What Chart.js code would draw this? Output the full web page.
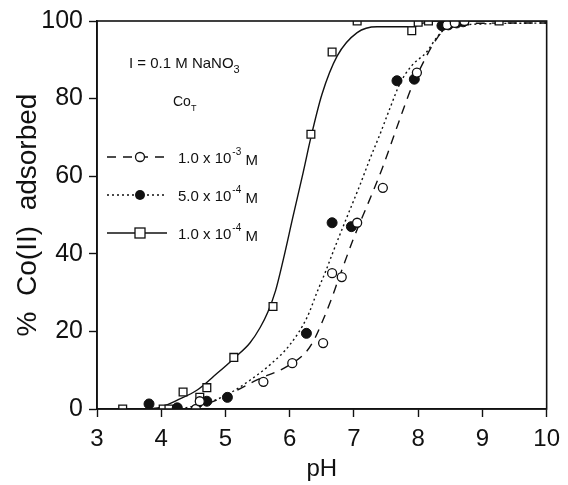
<!DOCTYPE html>
<html>
<head>
<meta charset="utf-8">
<script src="https://cdn.jsdelivr.net/npm/chart.js@4.4.1/dist/chart.umd.min.js"></script>
<style>
  html, body { margin: 0; padding: 0; background: #fff; }
  #wrap { width: 568px; height: 485px; position: relative; }
</style>
</head>
<body>
<div id="wrap"><canvas id="c" width="568" height="485"></canvas></div>
<script>
// ---- Data ----
const phTicks = [3, 4, 5, 6, 7, 8, 9, 10];
const pctTicks = [0, 20, 40, 60, 80, 100];

// Measured points: CoT = 1.0e-3 M (open circles)
const open1e3X = [4.54, 4.60, 5.59, 6.04, 6.52, 6.66, 6.81, 7.05, 7.45, 7.98, 8.45, 8.57, 8.72];
const open1e3Y = [0.0, 2.0, 7.0, 11.8, 17.0, 35.0, 34.0, 48.0, 57.0, 86.7, 99.0, 99.5, 100.0];

// Measured points: CoT = 5.0e-4 M (filled circles)
const filled5e4X = [3.81, 4.25, 4.71, 5.03, 6.26, 6.66, 6.96, 7.67, 7.94, 8.37, 8.47, 8.60, 8.70];
const filled5e4Y = [1.3, 0.3, 2.0, 3.0, 19.5, 48.0, 47.0, 84.6, 85.0, 98.8, 99.0, 99.5, 99.8];

// Measured points: CoT = 1.0e-4 M (open squares)
const sq1e4X = [3.40, 4.03, 4.12, 4.34, 4.60, 4.71, 5.13, 5.74, 6.33, 6.66, 7.05, 7.90, 8.00, 8.16, 8.72, 9.26];
const sq1e4Y = [0.0, 0.0, 0.0, 4.4, 3.0, 5.5, 13.3, 26.4, 70.8, 92.0, 100.0, 97.5, 99.7, 100.0, 100.0, 100.0];

// Model curves
const curveDashX = [4.50, 4.96, 5.49, 5.96, 6.27, 6.40, 6.52, 6.63, 6.75, 6.86, 6.99, 7.22, 7.44, 7.56, 7.72, 7.90, 8.10, 8.25, 8.39, 8.60, 10.0];
const curveDashY = [0.0, 3.0, 7.5, 11.0, 15.0, 18.5, 23.0, 27.5, 33.0, 38.0, 43.8, 53.0, 62.0, 67.5, 75.0, 83.0, 90.0, 94.5, 97.5, 99.3, 99.5];

const curveDotX = [4.30, 4.76, 5.07, 5.38, 5.70, 6.00, 6.27, 6.43, 6.56, 6.68, 6.88, 7.10, 7.25, 7.41, 7.56, 7.72, 7.90, 8.13, 8.30, 8.45, 8.70, 10.0];
const curveDotY = [0.0, 1.8, 4.1, 7.4, 11.5, 16.5, 23.6, 30.3, 35.5, 40.7, 49.0, 58.0, 64.5, 71.0, 77.5, 84.0, 88.5, 92.0, 96.0, 98.3, 99.0, 99.5];

const curveSolidX = [3.80, 4.00, 4.25, 4.56, 4.87, 5.15, 5.38, 5.54, 5.66, 5.78, 5.90, 6.05, 6.21, 6.33, 6.50, 6.74, 7.05, 7.36, 7.90, 8.20, 10.0];
const curveSolidY = [0.0, 0.5, 2.3, 4.9, 9.2, 13.3, 17.0, 21.0, 25.0, 30.5, 38.5, 49.5, 61.0, 70.0, 81.0, 91.0, 97.0, 98.5, 98.5, 100.0, 100.0];

const legendLabels = [
  { base: '1.0 x 10', sup: '-3', tail: ' M' },
  { base: '5.0 x 10', sup: '-4', tail: ' M' },
  { base: '1.0 x 10', sup: '-4', tail: ' M' }
];

const xy = (xs, ys) => xs.map((x, i) => ({ x: x, y: ys[i] }));
const INK = '#111';
const FONT = '"Liberation Sans", Arial, sans-serif';

const framePlugin = {
  id: 'frame',
  afterDraw(chart) {
    const { ctx, chartArea: a } = chart;
    ctx.save();
    ctx.strokeStyle = INK;
    ctx.lineWidth = 1.6;
    ctx.strokeRect(a.left, a.top, a.right - a.left, a.bottom - a.top);
    ctx.restore();
  }
};

const legendPlugin = {
  id: 'customLegend',
  afterDraw(chart) {
    const { ctx, chartArea: a } = chart;
    ctx.save();
    ctx.fillStyle = INK;
    ctx.strokeStyle = INK;
    ctx.textBaseline = 'alphabetic';
    ctx.textAlign = 'left';
    // header
    ctx.font = '15px ' + FONT;
    let x0 = a.left + 32, y0 = a.top + 47;
    const t1 = 'I = 0.1 M NaNO';
    ctx.fillText(t1, x0, y0);
    let w = ctx.measureText(t1).width;
    ctx.font = '11px ' + FONT;
    ctx.fillText('3', x0 + w, y0 + 5);
    ctx.font = '14px ' + FONT;
    x0 = a.left + 76; y0 = a.top + 85;
    ctx.fillText('Co', x0, y0);
    w = ctx.measureText('Co').width;
    ctx.font = '9px ' + FONT;
    ctx.fillText('T', x0 + w, y0 + 5);

    const rows = [a.top + 136, a.top + 174, a.top + 212];
    const sx0 = a.left + 10, sx1 = a.left + 70, mx = a.left + 43;
    rows.forEach((yy, i) => {
      ctx.lineWidth = 1.4;
      ctx.setLineDash(i === 0 ? [9, 7] : i === 1 ? [2, 3] : []);
      ctx.beginPath();
      ctx.moveTo(sx0, yy); ctx.lineTo(sx1, yy);
      ctx.stroke();
      ctx.setLineDash([]);
      ctx.lineWidth = 1.3;
      if (i === 0) {
        ctx.fillStyle = '#fff';
        ctx.beginPath(); ctx.arc(mx, yy, 4.5, 0, Math.PI * 2); ctx.fill(); ctx.stroke();
      } else if (i === 1) {
        ctx.fillStyle = INK;
        ctx.beginPath(); ctx.arc(mx, yy, 5, 0, Math.PI * 2); ctx.fill();
      } else {
        ctx.fillStyle = '#fff';
        ctx.fillRect(mx - 5, yy - 5, 10, 10); ctx.strokeRect(mx - 5, yy - 5, 10, 10);
      }
      ctx.fillStyle = INK;
      const lab = legendLabels[i];
      const tx = a.left + 81, ty = yy + 6;
      ctx.font = '15px ' + FONT;
      ctx.fillText(lab.base, tx, ty);
      let ww = ctx.measureText(lab.base).width;
      ctx.font = '10px ' + FONT;
      ctx.fillText(lab.sup, tx + ww + 1, ty - 8);
      const sw = ctx.measureText(lab.sup).width;
      ctx.font = '15px ' + FONT;
      ctx.fillText(lab.tail, tx + ww + sw + 1, ty + 2);
    });
    ctx.restore();
  }
};

const curveStyle = (dash) => ({
  type: 'line',
  showLine: true,
  borderColor: INK,
  borderWidth: 1.4,
  borderDash: dash,
  pointRadius: 0,
  pointHoverRadius: 0,
  fill: false,
  cubicInterpolationMode: 'monotone'
});

new Chart(document.getElementById('c'), {
  type: 'scatter',
  data: {
    datasets: [
      Object.assign({ label: 'fit 1.0e-3', data: xy(curveDashX, curveDashY), order: 5 }, curveStyle([9, 7])),
      Object.assign({ label: 'fit 5.0e-4', data: xy(curveDotX, curveDotY), order: 5 }, curveStyle([2, 3])),
      Object.assign({ label: 'fit 1.0e-4', data: xy(curveSolidX, curveSolidY), order: 5 }, curveStyle([])),
      {
        label: '1.0 x 10^-3 M', data: xy(open1e3X, open1e3Y), order: 1,
        pointStyle: 'circle', pointRadius: 4.5, borderWidth: 1.3,
        borderColor: INK, backgroundColor: '#fff', showLine: false
      },
      {
        label: '5.0 x 10^-4 M', data: xy(filled5e4X, filled5e4Y), order: 1,
        pointStyle: 'circle', pointRadius: 5, borderWidth: 1,
        borderColor: INK, backgroundColor: INK, showLine: false
      },
      {
        label: '1.0 x 10^-4 M', data: xy(sq1e4X, sq1e4Y), order: 1,
        pointStyle: 'rect', pointRadius: 5.5, borderWidth: 1.3,
        borderColor: INK, backgroundColor: '#fff', showLine: false
      }
    ]
  },
  options: {
    responsive: false,
    animation: false,
    devicePixelRatio: 1,
    layout: { padding: { left: 0, top: 19, right: 21, bottom: 0 } },
    plugins: { legend: { display: false }, tooltip: { enabled: false } },
    scales: {
      x: {
        type: 'linear', min: 3, max: 10,
        afterBuildTicks: (s) => { s.ticks = phTicks.map(v => ({ value: v })); },
        afterFit: (s) => { s.height = 76; },
        grid: { drawOnChartArea: false, drawTicks: true, tickLength: 8, color: INK, tickWidth: 1.4 },
        border: { display: true, color: INK, width: 1.6 },
        ticks: { color: INK, padding: 8, font: { family: FONT, size: 24 } },
        title: { display: true, text: 'pH', color: INK, font: { family: FONT, size: 24 }, padding: { top: 0, bottom: 1 } }
      },
      y: {
        type: 'linear', min: 0, max: 100,
        afterBuildTicks: (s) => { s.ticks = pctTicks.map(v => ({ value: v })); },
        afterFit: (s) => { s.width = 97; },
        grid: { drawOnChartArea: false, drawTicks: true, tickLength: 8, color: INK, tickWidth: 1.4 },
        border: { display: true, color: INK, width: 1.6 },
        ticks: { color: INK, padding: 6, font: { family: FONT, size: 25 } },
        title: { display: true, text: '%  Co(II)  adsorbed', color: INK, font: { family: FONT, size: 28 }, padding: { top: 11, bottom: 0 } }
      }
    }
  },
  plugins: [framePlugin, legendPlugin]
});
</script>
</body>
</html>
